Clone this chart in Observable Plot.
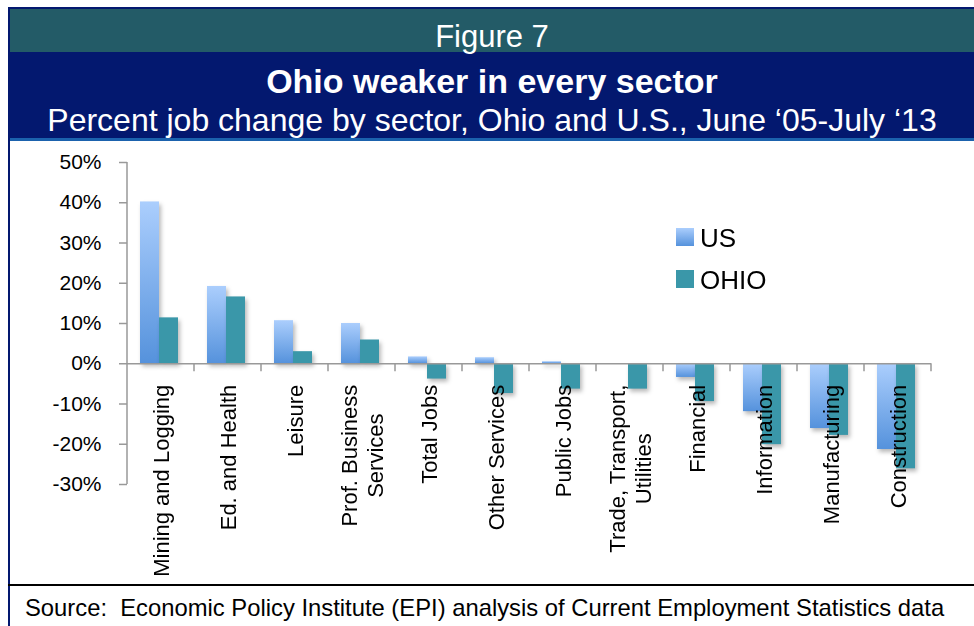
<!DOCTYPE html>
<html>
<head>
<meta charset="utf-8">
<script src="https://cdn.jsdelivr.net/npm/d3@7"></script>
<script src="https://cdn.jsdelivr.net/npm/@observablehq/plot@0.6"></script>
<style>
  body { margin: 0; background: #fff; font-family: "Liberation Sans", Arial, sans-serif; }
  #page { position: relative; width: 974px; height: 626px; overflow: hidden; background: #fff; }
  .abs { position: absolute; }
  .ctext { position: absolute; left: 10px; width: 964px; text-align: center; color: #fff; line-height: 1; white-space: nowrap; }
  #chart { position: absolute; left: 10px; top: 141px; }
  #chart g[aria-label="bar"] { filter: drop-shadow(2px 3px 2px rgba(0,0,0,0.28)); }
  .legtext { position: absolute; font-size: 26px; line-height: 1; color: #000; }
</style>
</head>
<body>
<div id="page">
  <div class="abs" style="left:8px;top:7px;width:966px;height:2px;background:#03186f"></div>
  <div class="abs" style="left:10px;top:9px;width:964px;height:43px;background:#235b67"></div>
  <div class="abs" style="left:8px;top:52px;width:966px;height:87px;background:#03186f"></div>
  <div class="abs" style="left:8px;top:138px;width:966px;height:3px;background:#1b62ad"></div>
  <div class="abs" style="left:8px;top:7px;width:2px;height:619px;background:#03186f"></div>
  <div class="abs" style="left:8px;top:584px;width:966px;height:2px;background:#000"></div>
  <div id="fig" class="ctext" style="top:21px;font-size:31px;"></div>
  <div id="title" class="ctext" style="top:64px;font-size:34px;font-weight:bold;"></div>
  <div id="subtitle" class="ctext" style="top:104px;font-size:32px;"></div>
  <div id="source" class="abs" style="left:25px;top:596px;font-size:23.8px;line-height:1;white-space:pre;color:#000"></div>
  <div id="chart"></div>
  <div id="legend"></div>
</div>
<script>
const figureLabel = "Figure 7";
const titleText = "Ohio weaker in every sector";
const subtitleText = "Percent job change by sector, Ohio and U.S., June \u201805-July \u201813";
const sourceText = "Source:  Economic Policy Institute (EPI) analysis of Current Employment Statistics data";

const sectors = ["Mining and Logging", "Ed. and Health", "Leisure", "Prof. Business Services", "Total Jobs", "Other Services", "Public Jobs", "Trade, Transport, Utilities", "Financial", "Information", "Manufacturing", "Construction"];
const sectorLabels = ["Mining and Logging", "Ed. and Health", "Leisure", "Prof. Business\nServices", "Total Jobs", "Other Services", "Public Jobs", "Trade, Transport,\nUtilities", "Financial", "Information", "Manufacturing", "Construction"];
const seriesNames = ["US", "OHIO"];
const usValues = [40.2, 19.2, 10.7, 10.0, 1.7, 1.5, 0.5, 0.0, -3.4, -11.9, -16.1, -21.3];
const ohioValues = [11.4, 16.6, 3.0, 5.9, -3.8, -7.4, -6.3, -6.3, -9.4, -20.1, -17.8, -26.1];
const yTicks = [-30, -20, -10, 0, 10, 20, 30, 40, 50];

const usTop = "#abcefd", usBottom = "#5592dc", ohioColor = "#3a97a9", axisColor = "#999";

document.getElementById("fig").textContent = figureLabel;
document.getElementById("title").textContent = titleText;
document.getElementById("subtitle").textContent = subtitleText;
document.getElementById("source").textContent = sourceText;

const usData = sectors.map((s, i) => ({sector: s, series: seriesNames[0], value: usValues[i]}));
const ohioData = sectors.map((s, i) => ({sector: s, series: seriesNames[1], value: ohioValues[i]}));
const labelData = sectors.map((s, i) => ({sector: s, label: sectorLabels[i]}));

function gradientDefs() {
  const defs = d3.create("svg:defs");
  const g = defs.append("linearGradient").attr("id", "usGrad").attr("x1", 0).attr("y1", 0).attr("x2", 0).attr("y2", 1);
  g.append("stop").attr("offset", "0%").attr("stop-color", usTop);
  g.append("stop").attr("offset", "100%").attr("stop-color", usBottom);
  return defs.node();
}

const chart = Plot.plot({
  width: 964,
  height: 443,
  marginLeft: 117,
  marginRight: 43,
  marginTop: 21,
  marginBottom: 100,
  style: {fontFamily: "'Liberation Sans', Arial, sans-serif", background: "transparent", overflow: "visible", color: "#000"},
  fx: {domain: sectors, padding: 0, axis: null},
  x: {domain: seriesNames, paddingInner: 0, paddingOuter: 0.763, align: 0.45, axis: null},
  y: {domain: [-30, 50], axis: null},
  marks: [
    gradientDefs,
    Plot.barY(usData, {fx: "sector", x: "series", y: "value", fill: "url(#usGrad)"}),
    Plot.barY(ohioData, {fx: "sector", x: "series", y: "value", fill: ohioColor}),
    Plot.ruleY([0], {stroke: axisColor, strokeWidth: 1.5}),
    Plot.axisY({ticks: yTicks, tickFormat: d => d + "%", label: null, tickSize: 8, tickPadding: 18, fontSize: 21, stroke: axisColor, strokeWidth: 1.5, fill: "#000"}),
    Plot.text(labelData, {fx: "sector", y: () => 0, text: "label", rotate: -90, textAnchor: "end", lineAnchor: "middle", lineHeight: 1.15, dy: 21, fontSize: 22, fill: "#000"})
  ]
});

document.getElementById("chart").appendChild(chart);

// axis line and category boundary ticks from the plot's own scales
const fxS = chart.scale("fx"), yS = chart.scale("y");
const step = fxS.step ?? fxS.bandwidth ?? (fxS.range[1] - fxS.range[0]) / sectors.length;
const svg = d3.select(chart);
const ag = svg.append("g").attr("stroke", axisColor).attr("stroke-width", 1.5);
const x0 = fxS.apply(sectors[0]);
ag.append("line").attr("x1", x0).attr("x2", x0).attr("y1", yS.apply(yTicks[yTicks.length - 1])).attr("y2", yS.apply(yTicks[0]));
sectors.forEach(s => {
  const xb = fxS.apply(s) + step;
  ag.append("line").attr("x1", xb).attr("x2", xb).attr("y1", yS.apply(0)).attr("y2", yS.apply(0) + 8);
});

// center the lines of two-line category labels
svg.selectAll('g[aria-label="text"] text').each(function() {
  const spans = Array.from(this.querySelectorAll("tspan"));
  if (spans.length < 2) return;
  const lens = spans.map(t => t.getComputedTextLength());
  const max = Math.max(...lens);
  spans.forEach((t, i) => t.setAttribute("x", -(max - lens[i]) / 2));
});

// legend
const legend = document.getElementById("legend");
const legItems = [
  {name: seriesNames[0], bg: `linear-gradient(${usTop}, ${usBottom})`, top: 228},
  {name: seriesNames[1], bg: ohioColor, top: 270}
];
legItems.forEach(it => {
  const sw = document.createElement("div");
  sw.className = "abs";
  sw.style.cssText = `left:676px;top:${it.top}px;width:18px;height:18px;background:${it.bg};`;
  legend.appendChild(sw);
  const tx = document.createElement("div");
  tx.className = "legtext";
  tx.style.left = "700px";
  tx.style.top = (it.top - 3) + "px";
  tx.textContent = it.name;
  legend.appendChild(tx);
});
</script>
</body>
</html>
